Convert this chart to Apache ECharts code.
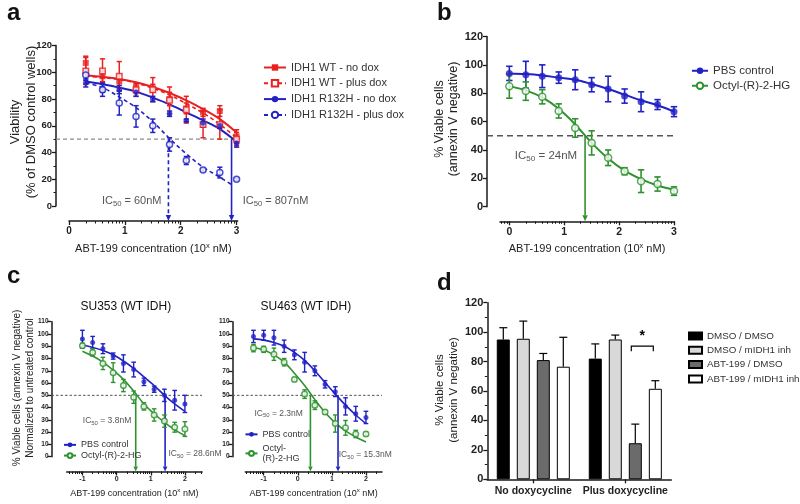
<!DOCTYPE html>
<html>
<head>
<meta charset="utf-8">
<script src="https://cdn.jsdelivr.net/npm/echarts@6.0.0/dist/echarts.min.js"></script>
<style>
html,body{margin:0;padding:0;background:#ffffff;}
#chart{width:800px;height:504px;}
</style>
</head>
<body>
<div id="chart"></div>
<script>
// ================= DATA =================
// x values are log10 of ABT-199 concentration (nM)
const halfLevel = 50;

// ---- Panel a ----
const aNames = ['IDH1 WT - no dox', 'IDH1 WT - plus dox', 'IDH1 R132H - no dox', 'IDH1 R132H - plus dox'];
const aX = [0.3, 0.6, 0.9, 1.2, 1.5, 1.8, 2.1, 2.4, 2.7, 3.0];
const aWtNo = [107, 97, 93, 89, 88, 80, 73, 70, 71, 52];
const aWtNoErr = [5, 4, 5, 3, 3, 5, 4, 3, 4, 5];
const aWtPlus = [101, 101, 97, 87, 87, 79, 72, 61, 61, 50];
const aWtPlusErr = [10, 9, 11, 5, 9, 10, 10, 10, 11, 5];
const aMutNo = [92, 88, 87, 85, 80, 69, 64, 62, 60, 47];
const aMutNoErr = [3, 3, 3, 3, 2, 2, 1, 3, 2, 3];
const aMutPlus = [98, 87, 77, 67, 60, 46, 34, 27, 25, 20];
const aMutPlusErr = [4, 5, 9, 8, 5, 5, 3, 1, 4, 1];
const aFitX = [0.3, 0.6, 0.9, 1.2, 1.5, 1.8, 2.1, 2.4, 2.7, 3.0];
const aFitDashX = [0.3, 0.6, 0.9, 1.2, 1.5, 1.8, 2.1, 2.4, 2.7, 2.93];
const aFitWtNo = [97.5, 96.5, 95, 92.5, 89, 84.5, 79, 72.5, 65, 55];
const aFitWtPlus = [97, 96, 94.5, 92, 88, 83, 76.5, 69.5, 61, 51];
const aFitMutNo = [93, 91, 88.5, 85.5, 81, 76, 70, 64, 57.5, 48];
const aFitMutPlus = [92, 88.5, 81.5, 73.5, 63, 50.5, 39, 29, 21.5, 15.5];
const aIC50 = [1.78, 2.91];
const aIC50Text = ['60nM', '807nM'];
const aTicks = [0, 1, 2, 3];

// ---- Panel b ----
const bNames = ['PBS control', 'Octyl-(R)-2-HG'];
const bX = [0, 0.3, 0.6, 0.9, 1.2, 1.5, 1.8, 2.1, 2.4, 2.7, 3.0];
const bPbs = [94, 93, 92, 91, 89.5, 86, 83, 78, 74, 72, 67];
const bPbsErr = [5, 9.5, 8, 4, 7, 5, 9, 5, 7, 3.5, 3.5];
const bOct = [85, 81.5, 77.5, 67.5, 55.5, 45, 34.5, 25, 18, 16, 11];
const bOctErr = [8.5, 6.5, 5, 5, 6.5, 8.5, 5.5, 2.5, 8, 5, 3];
const bFitPbs = [94, 93.5, 92.5, 91, 89.5, 86.5, 83, 79, 75, 71.5, 67];
const bFitOct = [85, 82, 77, 69, 58, 45, 34, 25.5, 19.5, 15, 12];
const bIC50 = [1.38];
const bIC50Text = ['24nM'];
const bTicks = [0, 1, 2, 3];

// ---- Panel c ----
const cTitles = ['SU353 (WT IDH)', 'SU463 (WT IDH)'];
const cNames = ['PBS control', 'Octyl-(R)-2-HG'];
const c1X = [-1, -0.7, -0.4, -0.1, 0.2, 0.5, 0.8, 1.1, 1.4, 1.7, 2.0];
const c1Pbs = [96, 93, 88, 82, 76, 71, 61, 55, 50, 46, 43];
const c1PbsErr = [7, 5, 4, 2.5, 7, 6, 3, 2.5, 5, 8, 7];
const c1Oct = [90.5, 85, 76, 68.5, 58, 48.5, 41, 34, 29, 24, 22.5];
const c1OctErr = [2, 3, 5, 8, 5, 5, 3, 5, 5, 4, 6];
const c1FitPbs = [91, 89, 86.5, 83, 78, 72, 65, 58, 50, 43, 37];
const c1FitOct = [86, 82, 77, 70.5, 63, 53.5, 43, 35, 28, 22, 17];
const c1IC50 = [0.56, 1.42];
const c1IC50Text = ['3.8nM', '28.6nM'];
const c2X = [-1.3, -1.0, -0.7, -0.4, -0.1, 0.2, 0.5, 0.8, 1.1, 1.4, 1.7, 2.0];
const c2Pbs = [98, 99, 97, 90, 83, 77, 70, 59, 53, 41, 35, 32];
const c2PbsErr = [5, 4, 6, 5, 4, 8, 4, 3, 4, 7, 6, 5];
const c2Oct = [88.5, 87.5, 83.5, 77, 63, 51, 42, 36.5, 27, 23.5, 18.5, 18.5];
const c2OctErr = [3, 2.5, 5, 3, 1.5, 3.5, 3.5, 1.5, 7, 6, 3, 1.5];
const c2FitPbs = [96, 95, 93, 90, 85, 78.5, 70, 60.5, 51, 42, 34, 27];
const c2FitOct = [89, 87, 83, 77, 68, 58, 46.5, 36, 27.5, 21, 16, 12];
const c2IC50 = [0.37, 1.18];
const c2IC50Text = ['2.3nM', '15.3nM'];
const cTicks = [-1, 0, 1, 2];

// ---- Panel d ----
const dCats = ['No doxycycline', 'Plus doxycycline'];
const dNames = ['DMSO / DMSO', 'DMSO / mIDH1 inh', 'ABT-199 / DMSO', 'ABT-199 / mIDH1 inh'];
const dVals = [[95, 82], [95.5, 95], [81, 24.5], [76.5, 61.5]];
const dErr = [[8, 10], [12, 3], [4.5, 13], [20, 5.5]];
const dSig = [[1, 90.5, 87, 97]]; // category, bracket level, bracket foot, star level

const xTitle = 'ABT-199 concentration (10{sup|x} nM)';

// ================= STYLE / HELPERS =================
const FONT = '"Liberation Sans", Arial, Helvetica, sans-serif';
const RED = '#e8201e', BLUE = '#2121c4', GREEN = '#2e922e';
const AXIS = '#1a1a1a', TXT = '#222222', GRAY = '#555555';
const P = e => Math.pow(10, e);
const pts = (xs, ys) => xs.map((x, i) => [P(x), ys[i]]);

function xLog(gi, range, ticks, offset, fs, nameFs, nameGap, margin, namePad) {
  return {
    type: 'log', gridIndex: gi, logBase: 10, min: P(range[0]), max: P(range[1]), offset: offset,
    axisLine: { show: true, onZero: false, lineStyle: { color: AXIS, width: 1.5 } },
    axisTick: { show: true, length: 4, lineStyle: { color: AXIS, width: 1.3 }, customValues: ticks.map(P) },
    minorTick: { show: true, splitNumber: 9, length: 2.5, lineStyle: { color: AXIS, width: 1 } },
    axisLabel: {
      customValues: ticks.map(P), fontSize: fs, fontWeight: 'bold', color: TXT, margin: margin, fontFamily: FONT,
      formatter: v => { const e = Math.log10(v); return Math.abs(e - Math.round(e)) < 0.01 ? String(Math.round(e)) : ''; }
    },
    splitLine: { show: false }, minorSplitLine: { show: false },
    name: xTitle, nameLocation: 'middle', nameGap: nameGap,
    nameTextStyle: {
      fontSize: nameFs, color: TXT, fontFamily: FONT, padding: namePad || 0,
      rich: { sup: { fontSize: nameFs * 0.68, color: TXT, fontFamily: FONT, padding: [0, 0, nameFs * 0.6, 0] } }
    }
  };
}
function yVal(gi, max, interval, offset, fs, minor, margin) {
  return {
    type: 'value', gridIndex: gi, min: 0, max: max, interval: interval, offset: offset,
    axisLine: { show: true, lineStyle: { color: AXIS, width: 1.5 } },
    axisTick: { show: true, length: 4, lineStyle: { color: AXIS, width: 1.3 } },
    minorTick: { show: !!minor, splitNumber: 2, length: 2.5, lineStyle: { color: AXIS, width: 1 } },
    axisLabel: { fontSize: fs, fontWeight: 'bold', color: TXT, margin: margin, fontFamily: FONT },
    splitLine: { show: false }
  };
}
function fitLine(gi, name, xs, ys, color, dashed, symbol, filled, lw) {
  return {
    type: 'line', name: name, xAxisIndex: gi, yAxisIndex: gi, data: pts(xs, ys), smooth: 0.35,
    showSymbol: false, symbol: symbol, symbolSize: 6, z: 2, silent: true,
    lineStyle: { color: color, width: lw, type: dashed ? [4, 3] : 'solid' },
    itemStyle: filled ? { color: color } : { color: '#ffffff', borderColor: color, borderWidth: 1.5 }
  };
}
function points(gi, id, xs, ys, color, symbol, filled, size) {
  return {
    type: 'scatter', name: id, xAxisIndex: gi, yAxisIndex: gi, data: pts(xs, ys), symbol: symbol,
    symbolSize: size, z: 5, silent: true,
    itemStyle: filled ? { color: color } : { color: '#ffffff', borderColor: color, borderWidth: 1.5 }
  };
}
function errBars(gi, xs, ys, es, color, cap, lw) {
  return {
    type: 'custom', xAxisIndex: gi, yAxisIndex: gi, silent: true, clip: false, z: 4,
    data: xs.map((x, i) => [P(x), ys[i] - es[i], ys[i] + es[i]]),
    renderItem: (params, api) => {
      const lo = api.coord([api.value(0), api.value(1)]);
      const hi = api.coord([api.value(0), api.value(2)]);
      const st = { stroke: color, lineWidth: lw };
      return { type: 'group', children: [
        { type: 'line', shape: { x1: lo[0], y1: lo[1], x2: hi[0], y2: hi[1] }, style: st },
        { type: 'line', shape: { x1: lo[0] - cap, y1: lo[1], x2: lo[0] + cap, y2: lo[1] }, style: st },
        { type: 'line', shape: { x1: hi[0] - cap, y1: hi[1], x2: hi[0] + cap, y2: hi[1] }, style: st }
      ] };
    }
  };
}
function halfLine(gi, xStart, ext, color, width, dash) {
  return {
    type: 'custom', xAxisIndex: gi, yAxisIndex: gi, silent: true, clip: false, z: 1,
    data: [[P(xStart), halfLevel]],
    renderItem: (params, api) => {
      const p = api.coord([api.value(0), api.value(1)]);
      const cs = params.coordSys;
      return { type: 'line', shape: { x1: cs.x - ext, y1: p[1], x2: cs.x + cs.width, y2: p[1] },
        style: { stroke: color, lineWidth: width, lineDash: dash } };
    }
  };
}
function arrows(gi, xs, colors, dashes, off, head) {
  return {
    type: 'custom', xAxisIndex: gi, yAxisIndex: gi, silent: true, clip: false, z: 3,
    data: xs.map((x, i) => [P(x), halfLevel, 0, i]),
    renderItem: (params, api) => {
      const i = api.value(3);
      const t = api.coord([api.value(0), api.value(1)]);
      const b = api.coord([api.value(0), api.value(2)]);
      const yb = b[1] + off;
      const c = colors[i];
      const ls = { stroke: c, lineWidth: 1.6 };
      if (dashes[i]) ls.lineDash = [4, 3];
      return { type: 'group', children: [
        { type: 'line', shape: { x1: t[0], y1: t[1], x2: t[0], y2: yb - head }, style: ls },
        { type: 'polygon', shape: { points: [[t[0] - head * 0.45, yb - head], [t[0] + head * 0.45, yb - head], [t[0], yb]] }, style: { fill: c } }
      ] };
    }
  };
}
function icText(x, y, val, fs) {
  return {
    type: 'text', x: x, y: y, silent: true,
    style: {
      text: 'IC{s|50} = ' + val, fill: GRAY, fontSize: fs, fontFamily: FONT, align: 'center', verticalAlign: 'middle',
      rich: { s: { fontSize: fs * 0.7, fill: GRAY, fontFamily: FONT, padding: [fs * 0.55, 0, 0, 0] } }
    }
  };
}
function yTitle(x, y, text, fs, lh) {
  return { type: 'text', x: x, y: y, rotation: Math.PI / 2, silent: true,
    style: { text: text, fill: TXT, fontSize: fs, fontFamily: FONT, align: 'center', verticalAlign: 'middle', lineHeight: lh } };
}
function plain(x, y, text, fs, weight, align) {
  return { type: 'text', x: x, y: y, silent: true,
    style: { text: text, fill: '#111', fontSize: fs, fontWeight: weight, fontFamily: FONT, align: align, verticalAlign: 'middle' } };
}

// ================= OPTION =================
const dColors = ['#000000', '#d9d9d9', '#6b6b6b', '#ffffff'];
const series = [];

// Panel a
series.push(halfLine(0, 0, 13, '#8a8a8a', 1.3, [4, 3]));
series.push(fitLine(0, aNames[0], aFitX, aFitWtNo, RED, false, 'rect', true, 2));
series.push(fitLine(0, aNames[1], aFitX, aFitWtPlus, RED, true, 'rect', false, 1.6));
series.push(fitLine(0, aNames[2], aFitX, aFitMutNo, BLUE, false, 'circle', true, 2));
series.push(fitLine(0, aNames[3], aFitDashX, aFitMutPlus, BLUE, true, 'circle', false, 1.6));
series.push(errBars(0, aX, aWtNo, aWtNoErr, RED, 2.6, 1.5));
series.push(errBars(0, aX, aWtPlus, aWtPlusErr, RED, 2.6, 1.5));
series.push(errBars(0, aX, aMutNo, aMutNoErr, BLUE, 2.6, 1.5));
series.push(errBars(0, aX, aMutPlus, aMutPlusErr, BLUE, 2.6, 1.5));
series.push(points(0, 'a-pts-0', aX, aWtNo, RED, 'rect', true, 6));
series.push(points(0, 'a-pts-1', aX, aWtPlus, RED, 'rect', false, 5.5));
series.push(points(0, 'a-pts-2', aX, aMutNo, BLUE, 'circle', true, 5.5));
series.push(points(0, 'a-pts-3', aX, aMutPlus, BLUE, 'circle', false, 6));
series.push(arrows(0, aIC50, [BLUE, BLUE], [true, false], 15, 6));

// Panel b
series.push(halfLine(1, -0.17, 13, '#555555', 1.6, [6, 4]));
series.push(fitLine(1, bNames[0], bX, bFitPbs, BLUE, false, 'circle', true, 2));
series.push(fitLine(1, bNames[1], bX, bFitOct, GREEN, false, 'circle', false, 2));
series.push(errBars(1, bX, bPbs, bPbsErr, BLUE, 3.2, 1.6));
series.push(errBars(1, bX, bOct, bOctErr, GREEN, 3.2, 1.6));
series.push(points(1, 'b-pts-0', bX, bPbs, BLUE, 'circle', true, 7));
series.push(points(1, 'b-pts-1', bX, bOct, GREEN, 'circle', false, 7));
series.push(arrows(1, bIC50, [GREEN], [false], 14.6, 6));

// Panel c (two sub-charts)
[[2, c1X, c1Pbs, c1PbsErr, c1Oct, c1OctErr, c1FitPbs, c1FitOct, c1IC50, -1.46, 15.2],
 [3, c2X, c2Pbs, c2PbsErr, c2Oct, c2OctErr, c2FitPbs, c2FitOct, c2IC50, -1.54, 12.8]].forEach(r => {
  const gi = r[0];
  series.push(halfLine(gi, r[9], r[10], '#555555', 1, [2.5, 2]));
  series.push(fitLine(gi, cNames[0], r[1], r[6], BLUE, false, 'circle', true, 1.6));
  series.push(fitLine(gi, cNames[1], r[1], r[7], GREEN, false, 'circle', false, 1.6));
  series.push(errBars(gi, r[1], r[2], r[3], BLUE, 2.3, 1.4));
  series.push(errBars(gi, r[1], r[4], r[5], GREEN, 2.3, 1.4));
  series.push(points(gi, 'c-pts-' + gi + '-0', r[1], r[2], BLUE, 'circle', true, 5));
  series.push(points(gi, 'c-pts-' + gi + '-1', r[1], r[4], GREEN, 'circle', false, 5.5));
  series.push(arrows(gi, r[8], [GREEN, BLUE], [false, false], 14.8, 5));
});

// Panel d
dNames.forEach((n, i) => {
  series.push({
    type: 'bar', name: n, xAxisIndex: 4, yAxisIndex: 4, data: dVals[i], barWidth: 13, barGap: '54%',
    itemStyle: { color: dColors[i], borderColor: '#000000', borderWidth: 1 }, z: 2, silent: true
  });
});
const dErrData = [];
dVals.forEach((vals, s) => vals.forEach((v, c) => dErrData.push([c, s, v, dErr[s][c]])));
series.push({
  type: 'custom', xAxisIndex: 4, yAxisIndex: 4, silent: true, clip: false, z: 3, encode: { x: 0, y: 2 },
  data: dErrData,
  renderItem: (params, api) => {
    const c = api.coord([api.value(0), api.value(2)]);
    const t = api.coord([api.value(0), api.value(2) + api.value(3)]);
    const x = c[0] + (api.value(1) - 1.5) * 20;
    const st = { stroke: '#000000', lineWidth: 1.2 };
    return { type: 'group', children: [
      { type: 'line', shape: { x1: x, y1: c[1], x2: x, y2: t[1] }, style: st },
      { type: 'line', shape: { x1: x - 4, y1: t[1], x2: x + 4, y2: t[1] }, style: st }
    ] };
  }
});
series.push({
  type: 'custom', xAxisIndex: 4, yAxisIndex: 4, silent: true, clip: false, z: 3, encode: { x: 0, y: 1 },
  data: dSig,
  renderItem: (params, api) => {
    const top = api.coord([api.value(0), api.value(1)]);
    const foot = api.coord([api.value(0), api.value(2)]);
    const star = api.coord([api.value(0), api.value(3)]);
    const x1 = top[0] + 6, x2 = top[0] + 28;
    const st = { stroke: '#000000', lineWidth: 1.2 };
    return { type: 'group', children: [
      { type: 'polyline', shape: { points: [[x1, foot[1]], [x1, top[1]], [x2, top[1]], [x2, foot[1]]] }, style: Object.assign({ fill: null }, st) },
      { type: 'text', x: (x1 + x2) / 2, y: star[1], style: { text: '*', fill: '#000', fontSize: 14, fontWeight: 'bold', fontFamily: FONT, align: 'center', verticalAlign: 'middle' } }
    ] };
  }
});

const legendText = (fs, lh) => ({ fontSize: fs, color: '#333333', fontFamily: FONT, lineHeight: lh });

const option = {
  animation: false,
  backgroundColor: '#ffffff',
  textStyle: { fontFamily: FONT },
  grid: [
    { left: 69, top: 45.5, width: 168.7, height: 160.5 },
    { left: 500, top: 36.5, width: 174, height: 170.2 },
    { left: 66.7, top: 321.7, width: 135.3, height: 135 },
    { left: 245.3, top: 321.7, width: 136.7, height: 135 },
    { left: 487.3, top: 302.7, width: 184, height: 176.6 }
  ],
  xAxis: [
    xLog(0, [0, 3.02], aTicks, 15, 10, 11, 21, 5),
    xLog(1, [-0.17, 3], bTicks, 14.6, 10.5, 11, 21, 5),
    xLog(2, [-1.46, 2.5], cTicks, 14.8, 7, 9, 16, 4),
    xLog(3, [-1.54, 2.47], cTicks, 14.8, 7, 9, 16, 4),
    {
      type: 'category', gridIndex: 4, data: dCats,
      axisLine: { show: true, lineStyle: { color: AXIS, width: 1.5 } },
      axisTick: { show: true, alignWithLabel: true, length: 4, lineStyle: { color: AXIS, width: 1.3 } },
      axisLabel: { interval: 0, fontSize: 10.5, fontWeight: 'bold', color: TXT, margin: 6, fontFamily: FONT },
      splitLine: { show: false }
    }
  ],
  yAxis: [
    yVal(0, 120, 20, 13, 9.5, true, 4),
    yVal(1, 120, 20, 13, 11, false, 4),
    yVal(2, 110, 10, 15.2, 6.5, false, 3),
    yVal(3, 110, 10, 12.8, 6.5, false, 3),
    yVal(4, 120, 20, 0, 11, true, 4)
  ],
  legend: [
    { data: aNames, orient: 'vertical', left: 258, top: 55.5, itemWidth: 22, itemHeight: 8, itemGap: 1.8,
      selectedMode: false, textStyle: legendText(11, 14) },
    { data: bNames, orient: 'vertical', left: 686, top: 59, itemWidth: 16, itemHeight: 8, itemGap: 1.5,
      selectedMode: false, textStyle: legendText(11.5, 13.5) },
    { data: cNames, orient: 'vertical', left: 58, top: 434.5, itemWidth: 12, itemHeight: 6, itemGap: 0,
      selectedMode: false, textStyle: legendText(9, 10.7) },
    { data: cNames, orient: 'vertical', left: 239.5, top: 424, itemWidth: 12, itemHeight: 6, itemGap: 3,
      selectedMode: false, textStyle: legendText(9, 10.7),
      formatter: n => n === cNames[1] ? 'Octyl-\n(R)-2-HG' : n },
    { data: dNames, orient: 'vertical', left: 683, top: 324.5, itemWidth: 13, itemHeight: 7, itemGap: 1.3, icon: 'rect',
      selectedMode: false, textStyle: legendText(9.8, 13) }
  ],
  series: series,
  graphic: [
    plain(7, 13.7, 'a', 24, 'bold', 'left'),
    plain(437, 13.7, 'b', 24, 'bold', 'left'),
    plain(7, 276.7, 'c', 24, 'bold', 'left'),
    plain(437, 283.4, 'd', 24, 'bold', 'left'),
    plain(125.8, 307, cTitles[0], 12, 'normal', 'center'),
    plain(305.8, 307, cTitles[1], 12, 'normal', 'center'),
    yTitle(23.4, 122, 'Viability\n(% of DMSO control wells)', 13, 16.2),
    yTitle(447, 119, '% Viable cells\n(annexin V negative)', 12.5, 14),
    yTitle(23.7, 388, '% Viable cells (annexin V negative)\nNormalized to untreated control', 10, 13.5),
    yTitle(446.7, 390, '% Viable cells\n(annexin V negative)', 11.5, 13.3),
    icText(131.7, 201, aIC50Text[0], 11),
    icText(275.5, 201, aIC50Text[1], 11),
    icText(546, 156, bIC50Text[0], 11.5),
    icText(107, 420.7, c1IC50Text[0], 8.5),
    icText(195, 454, c1IC50Text[1], 8.5),
    icText(278.7, 413.3, c2IC50Text[0], 8.5),
    icText(365.3, 455, c2IC50Text[1], 8.5)
  ]
};

const chart = echarts.init(document.getElementById('chart'), null, { renderer: 'canvas' });
chart.setOption(option);
</script>
</body>
</html>
